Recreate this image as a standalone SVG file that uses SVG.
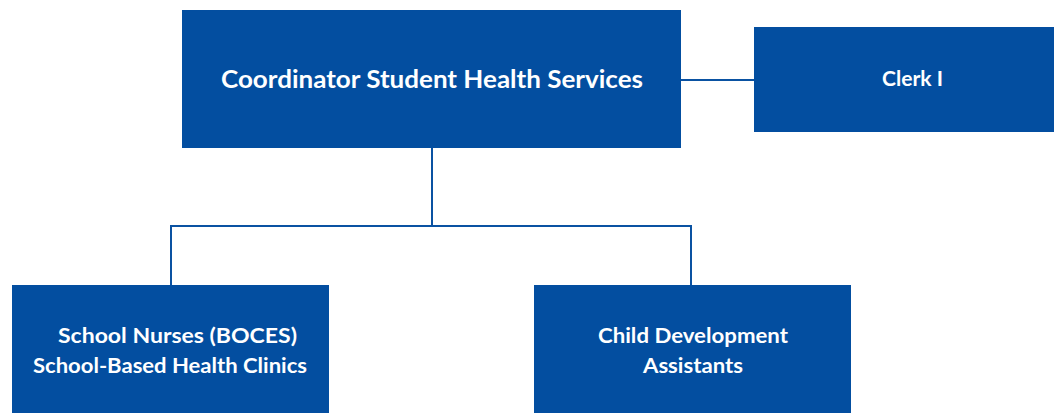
<svg xmlns="http://www.w3.org/2000/svg" width="1054" height="413" viewBox="0 0 1054 413">
<style>
.box{fill:#034EA0}
.t{fill:#fff;font-family:Lato,"Liberation Sans",sans-serif;font-weight:bold;text-anchor:middle}
.c{fill:none;stroke:#0A52A2;stroke-width:2}
</style>
<rect width="1054" height="413" fill="#fff"/>
<g id="connectors">
<line class="c" x1="681" y1="80" x2="754" y2="80"/>
<polyline class="c" points="432,148 432,226"/>
<polyline class="c" points="171,285 171,226 691,226 691,285"/>
</g>
<g id="coordinator">
<rect class="box" x="182" y="10" width="499" height="138"/>
<text class="t" x="432" y="88" font-size="24" textLength="422" lengthAdjust="spacingAndGlyphs">Coordinator Student Health Services</text>
</g>
<g id="clerk">
<rect class="box" x="754" y="27" width="300" height="105"/>
<text class="t" x="912.5" y="86" font-size="20" textLength="61" lengthAdjust="spacingAndGlyphs">Clerk I</text>
</g>
<g id="nurses">
<rect class="box" x="12" y="285" width="317" height="128"/>
<text class="t" x="177.5" y="343" font-size="21" textLength="239" lengthAdjust="spacingAndGlyphs">School Nurses (BOCES)</text>
<text class="t" x="170" y="373" font-size="21" textLength="274" lengthAdjust="spacingAndGlyphs">School-Based Health Clinics</text>
</g>
<g id="cda">
<rect class="box" x="534" y="285" width="317" height="128"/>
<text class="t" x="693" y="343" font-size="21" textLength="190" lengthAdjust="spacingAndGlyphs">Child Development</text>
<text class="t" x="693" y="373" font-size="21" textLength="100" lengthAdjust="spacingAndGlyphs">Assistants</text>
</g>
</svg>
